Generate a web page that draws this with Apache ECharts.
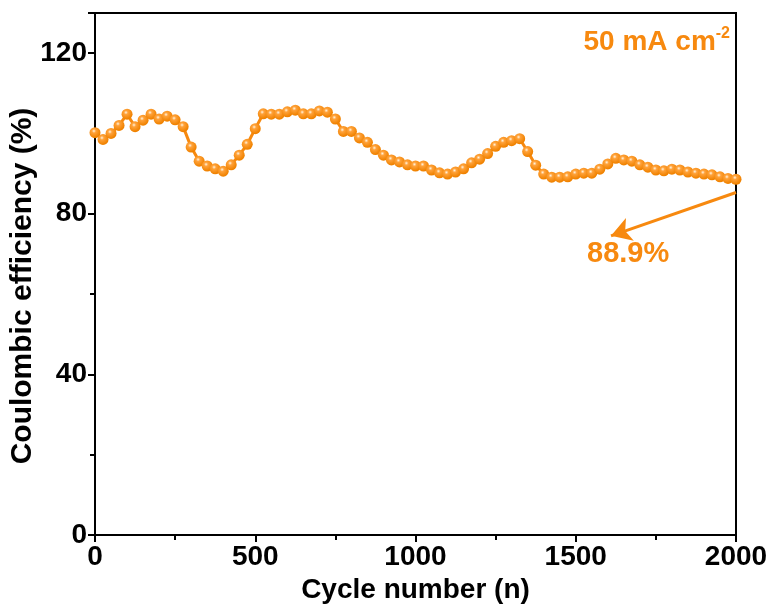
<!DOCTYPE html>
<html lang="en">
  <head>
    <meta charset="UTF-8" />
    <title>Coulombic efficiency</title>
    <script src="https://cdn.jsdelivr.net/npm/echarts@6.0.0/dist/echarts.min.js"></script>
  </head>
  <body style="margin: 0">
    <div id="main" style="width: 774px; height: 614px"></div>
    <script type="text/javascript">
      // cycle numbers, one point every 25 cycles
      const cycles = [];
      for (let c = 0; c <= 2000; c += 25) cycles.push(c);

      const efficiency = [
        100.2, 98.5, 100, 102, 104.8, 101.7, 103.3, 104.8, 103.6, 104.3,
        103.4, 101.7, 96.6, 93.1, 91.9, 91.2, 90.6, 92.2, 94.6, 97.3,
        101.2, 104.9, 104.8, 104.8, 105.4, 105.8, 104.9, 104.9, 105.6, 105.3,
        103.6, 100.5, 100.5, 98.9, 97.8, 96, 94.6, 93.4, 92.9, 92.2,
        91.9, 91.9, 90.9, 90.2, 89.9, 90.4, 91.2, 92.7, 93.6, 95,
        96.8, 97.8, 98.2, 98.7, 95.5, 92.1, 89.9, 89.1, 89.1, 89.2,
        89.9, 90.1, 90.1, 91.1, 92.4, 93.8, 93.4, 93.1, 92.2, 91.6,
        90.9, 90.7, 91.1, 90.9, 90.4, 90.1, 89.9, 89.7, 89.2, 88.8, 88.6
      ];

      const arrowFrom = [2000, 85.3];
      const arrowTo = [1610, 74.5];

      const orange = "#F7890F";
      const fontFam = "Liberation Sans, Arial, sans-serif";
      const axisFont = { fontFamily: fontFam, fontWeight: "bold", fontSize: 28, color: "#000" };

      var myChart = echarts.init(document.getElementById("main"));

      var option = {
        animation: false,
        grid: {
          left: 95, right: 38, top: 13, bottom: 79,
          outerBoundsMode: "none",
          show: true, borderColor: "#000", borderWidth: 2
        },
        xAxis: {
          type: "value",
          min: 0, max: 2000, interval: 500,
          name: "Cycle number (n)",
          nameLocation: "middle",
          nameGap: 40,
          nameTextStyle: axisFont,
          axisLine: { lineStyle: { color: "#000", width: 2 } },
          axisTick: { length: 7, lineStyle: { width: 2 } },
          minorTick: { show: true, splitNumber: 2, length: 5, lineStyle: { color: "#000", width: 2 } },
          splitLine: { show: false },
          axisLabel: Object.assign({ margin: 8, formatter: (v) => String(v) }, axisFont)
        },
        yAxis: {
          type: "value",
          min: 0, max: 130, interval: 40,
          name: "Coulombic efficiency (%)",
          nameLocation: "middle",
          nameGap: 57,
          nameMoveOverlap: false,
          nameTextStyle: Object.assign({}, axisFont, { fontSize: 30, padding: [0, 24, 0, 0] }),
          axisLine: { show: true, lineStyle: { color: "#000", width: 2 } },
          axisTick: { show: true, length: 7, lineStyle: { width: 2 } },
          minorTick: { show: true, splitNumber: 2, length: 5, lineStyle: { color: "#000", width: 2 } },
          splitLine: { show: false },
          axisLabel: Object.assign({ margin: 8, showMaxLabel: false }, axisFont)
        },
        series: [
          {
            type: "line",
            data: cycles.map((c, i) => [c, efficiency[i]]),
            symbol: "circle",
            symbolSize: 11,
            lineStyle: { color: orange, width: 3 },
            itemStyle: {
              color: {
                type: "radial", x: 0.4, y: 0.35, r: 0.6,
                colorStops: [
                  { offset: 0, color: "#FFF4E0" },
                  { offset: 0.3, color: "#FFA23A" },
                  { offset: 1, color: "#F08200" }
                ]
              },
              borderWidth: 0
            },
            markLine: {
              silent: true,
              symbol: ["none", "arrow"],
              symbolSize: [18, 20],
              lineStyle: { color: orange, width: 3, type: "solid" },
              label: { show: false },
              data: [[{ coord: arrowFrom }, { coord: arrowTo }]]
            }
          }
        ],
        graphic: [
          {
            type: "text",
            right: 44,
            top: 26,
            style: {
              text: "50 mA cm{sup|-2}",
              fill: orange,
              font: "bold 28px " + fontFam,
              rich: { sup: { fontSize: 16, fontWeight: "bold", fill: orange, verticalAlign: "top", padding: [0, 0, 16, 0], fontFamily: fontFam } }
            }
          },
          {
            type: "text",
            left: 587,
            top: 239,
            style: {
              text: "88.9%",
              fill: orange,
              font: "bold 29px " + fontFam
            }
          }
        ]
      };

      myChart.setOption(option);
    </script>
  </body>
</html>
